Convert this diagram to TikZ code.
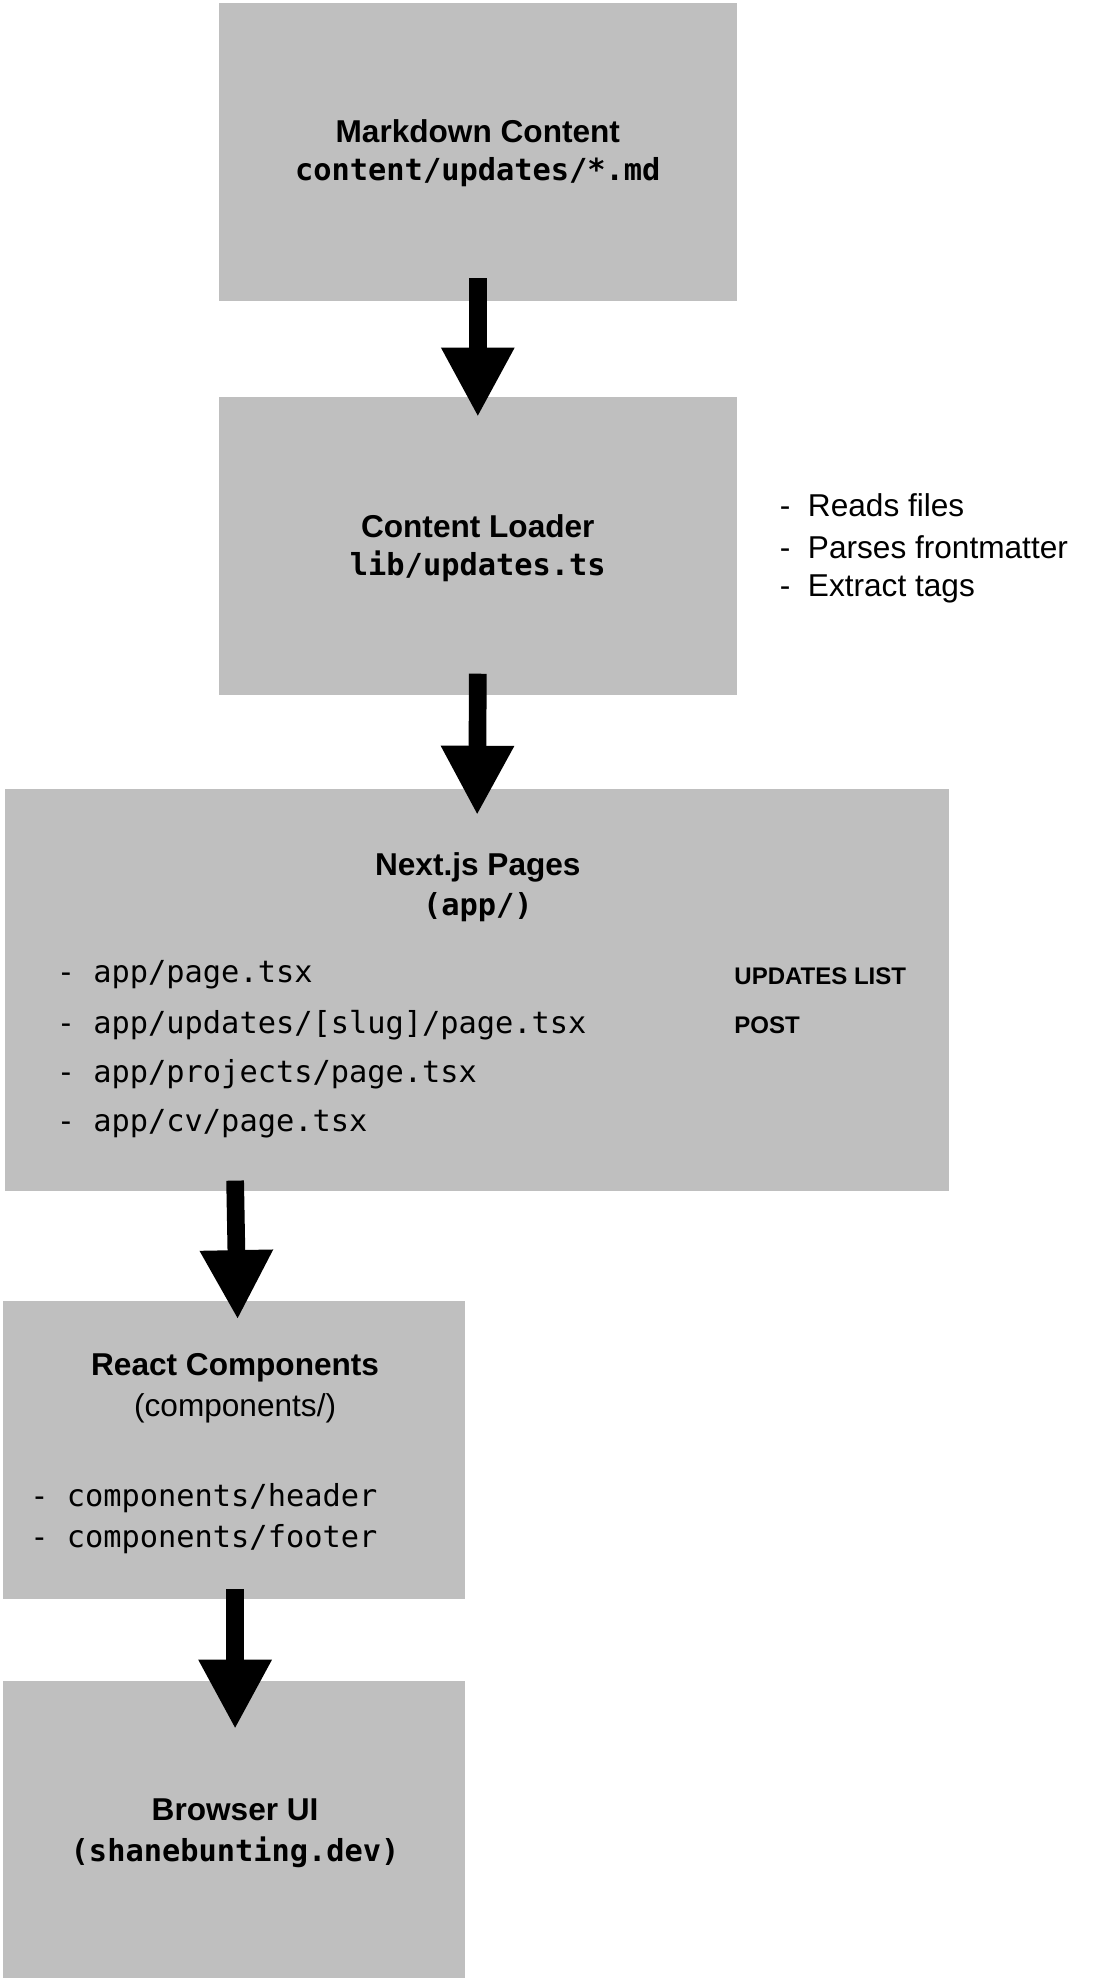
\documentclass[tikz,border=0pt]{standalone}
\usepackage{fontspec}
\setmainfont{Liberation Sans}
\setmonofont{DejaVu Sans Mono}
\usetikzlibrary{arrows.meta,calc}
\begin{document}
\begin{tikzpicture}[x=1pt,y=-1pt,inner sep=0pt,outer sep=0pt,
box/.style={fill=black!25,anchor=north west},
title/.style={font=\fontsize{25}{28}\selectfont\bfseries},
code/.style={font=\fontsize{24}{28}\ttfamily\bfseries},
item/.style={font=\fontsize{24}{28}\ttfamily,anchor=west},
note/.style={font=\fontsize{25}{28}\selectfont,anchor=west},
tag/.style={font=\fontsize{19}{22}\selectfont\bfseries,anchor=west},
flow/.style={line width=14pt,-{Triangle[width=54pt,length=55pt]}}]
\useasboundingbox (0,0) rectangle (886,1568);
\node[box,minimum width=410pt,minimum height=236pt] (md) at (173,2) {};
\node[box,minimum width=410pt,minimum height=236pt] (loader) at (173,314) {};
\node[box,minimum width=747pt,minimum height=318pt] (pages) at (4,624) {};
\node[box,minimum width=366pt,minimum height=236pt] (comp) at (2,1029) {};
\node[box,minimum width=366pt,minimum height=235pt] (ui) at (2,1330) {};
% box texts
\node[title] (mdT) at (378,104) {Markdown Content};
\node[code] (mdC) at (378,136) {content/updates/*.md};
\node[title] (ldT) at (378,416) {Content Loader};
\node[code] (ldC) at (378,448) {lib/updates.ts};
\node[note] (n1) at (617,400) {-\ \ Reads files};
\node[note] (n2) at (617,433) {-\ \ Parses frontmatter};
\node[note] (n3) at (617,466) {-\ \ Extract tags};
\node[title] (pgT) at (378,686) {Next.js Pages};
\node[code] (pgC) at (378,718) {(app/)};
\node[item] (p1) at (45,771) {- app/page.tsx};
\node[item] (p2) at (45,811) {- app/updates/[slug]/page.tsx};
\node[item] (p3) at (45,850) {- app/projects/page.tsx};
\node[item] (p4) at (45,889) {- app/cv/page.tsx};
\node[tag] (t1) at (581,772) {UPDATES LIST};
\node[tag] (t2) at (581,811) {POST};
\node[title] (cpT) at (186,1082) {React Components};
\node[font=\fontsize{25}{28}\selectfont] (cpC) at (186,1114) {(components/)};
\node[item] (c1) at (24,1185) {- components/header};
\node[item] (c2) at (24,1218) {- components/footer};
\node[title] (uiT) at (186,1432) {Browser UI};
\node[code] (uiC) at (186,1465) {(shanebunting.dev)};
% arrows
\draw[flow] ($(md.south)+(0,-18)$) -- ($(loader.north)+(0,16)$);
\draw[flow] ($(loader.south)+(0,-17)$) -- ($(pages.north)+(0,21)$ -| loader.south);
\draw[flow] (186,934) coordinate (a) -- ($(comp.north)+(3,15)$);
\draw[flow] ($(comp.south)+(1,-8)$) -- ($(ui.north)+(1,38)$);
\end{tikzpicture}
\end{document}
